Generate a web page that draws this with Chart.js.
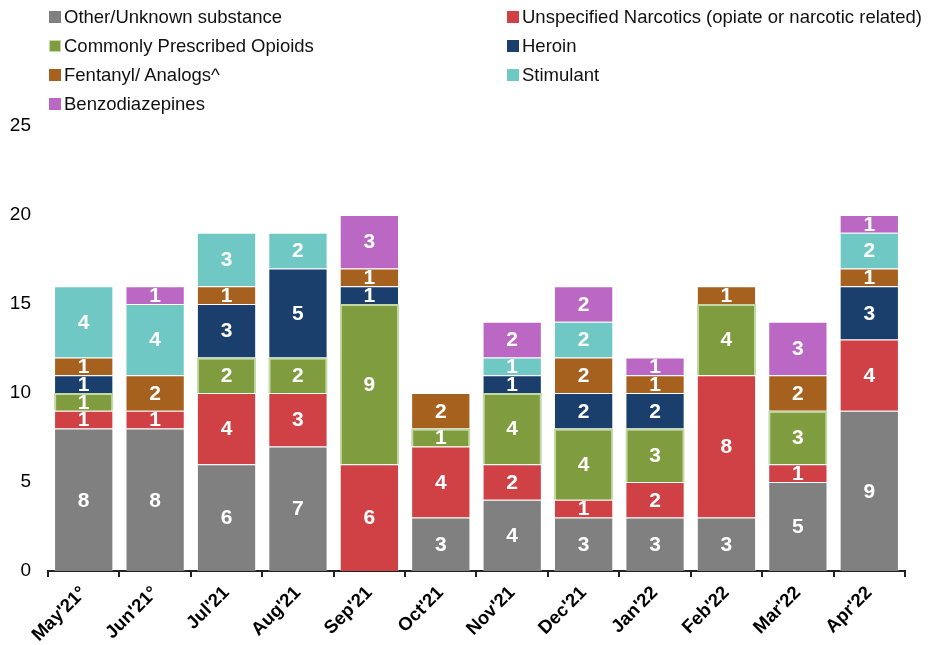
<!DOCTYPE html>
<html><head><meta charset="utf-8">
<script src="https://cdn.jsdelivr.net/npm/chart.js@4"></script>
<style>
html,body{margin:0;padding:0;background:#fff;}
#wrap{position:relative;width:930px;height:645px;}
#legend{position:absolute;left:0;top:0;width:930px;height:120px;font-family:"Liberation Sans",Arial,sans-serif;font-size:18.5px;color:#111;}
.li{position:absolute;display:flex;align-items:center;white-space:nowrap;height:22px;}
.sw{width:12px;height:12px;margin-right:3px;box-sizing:border-box;}
</style></head>
<body><div id="wrap"><canvas id="c" width="930" height="645"></canvas><div id="legend"></div></div>
<script>
const categories = ["May'21°","Jun'21°","Jul'21","Aug'21","Sep'21","Oct'21","Nov'21","Dec'21","Jan'22","Feb'22","Mar'22","Apr'22"];
const seriesNames = ["Other/Unknown substance","Unspecified Narcotics (opiate or narcotic related)","Commonly Prescribed Opioids","Heroin","Fentanyl/ Analogs^","Stimulant","Benzodiazepines"];
const otherUnknown = [8,8,6,7,0,3,4,3,3,3,5,9];
const unspecifiedNarcotics = [1,1,4,3,6,4,2,1,2,8,1,4];
const prescribedOpioids = [1,0,2,2,9,1,4,4,3,4,3,0];
const heroin = [1,0,3,5,1,0,1,2,2,0,0,3];
const fentanyl = [1,2,1,0,1,2,0,2,1,1,2,1];
const stimulant = [4,4,3,2,0,0,1,2,0,0,0,2];
const benzodiazepines = [0,1,0,0,3,0,2,2,1,0,3,1];
const yTicks = [0,5,10,15,20,25];

const colors = ['#808080','#d04145','#7f9c3f','#1b3f6c','#a6611e','#70c8c5','#ba68c4'];
const borders = ['rgba(255,255,255,0.35)','rgba(255,255,255,0.35)','#c3d9a6','rgba(255,255,255,0.35)','rgba(255,255,255,0.35)','rgba(255,255,255,0.35)','rgba(255,255,255,0.35)'];
const values = [otherUnknown,unspecifiedNarcotics,prescribedOpioids,heroin,fentanyl,stimulant,benzodiazepines];
const FONT = '"Liberation Sans", Arial, sans-serif';

// HTML legend (two columns)
const legendPos = [[49,6],[507,6],[49,35],[507,35],[49,64],[507,64],[49,93]];
const lg = document.getElementById('legend');
seriesNames.forEach((n,i)=>{
  const d=document.createElement('div');d.className='li';
  d.style.left=legendPos[i][0]+'px';d.style.top=legendPos[i][1]+'px';
  const s=document.createElement('div');s.className='sw';s.style.background=colors[i];
  if(i===2){s.style.border='1px solid #c3d9a6';}
  d.appendChild(s);const t=document.createElement('span');t.textContent=n;d.appendChild(t);lg.appendChild(d);
});

const labelPlugin = {
  id:'segLabels',
  afterDatasetsDraw(chart){
    const ctx=chart.ctx;ctx.save();
    ctx.fillStyle='#fff';ctx.font='bold 21px '+FONT;ctx.textAlign='center';ctx.textBaseline='middle';
    chart.data.datasets.forEach((ds,di)=>{
      const meta=chart.getDatasetMeta(di);
      meta.data.forEach((el,i)=>{
        const v=ds.data[i]; if(!v) return;
        const y=(el.y+el.base)/2;
        ctx.fillText(String(v),el.x,y+1);
      });
    });
    ctx.restore();
  }
};

new Chart(document.getElementById('c'),{
  type:'bar',
  data:{labels:categories,datasets:seriesNames.map((n,i)=>({label:n,data:values[i],backgroundColor:colors[i],borderColor:borders[i],borderWidth:i===2?2:1,barPercentage:0.83,categoryPercentage:1}))},
  options:{
    responsive:false,animation:false,
    layout:{padding:{top:126,right:25,left:0,bottom:0}},
    plugins:{legend:{display:false},tooltip:{enabled:false}},
    scales:{
      x:{stacked:true,
        grid:{display:true,offset:true,drawOnChartArea:false,drawTicks:true,tickLength:6,color:'#222',lineWidth:2},
        border:{display:true,color:'#222',width:2},
        ticks:{color:'#000',font:{family:FONT,size:18.5,weight:'bold'},maxRotation:45,minRotation:45,padding:5},
        afterFit(s){s.height=74;}
      },
      y:{stacked:true,min:0,max:25,
        afterBuildTicks(s){s.ticks=yTicks.map(v=>({value:v}));},
        grid:{display:false},border:{display:false},
        ticks:{color:'#000',font:{family:FONT,size:19},padding:9},
        afterFit(s){s.width=48;}
      }
    }
  },
  plugins:[labelPlugin]
});
</script></body></html>
